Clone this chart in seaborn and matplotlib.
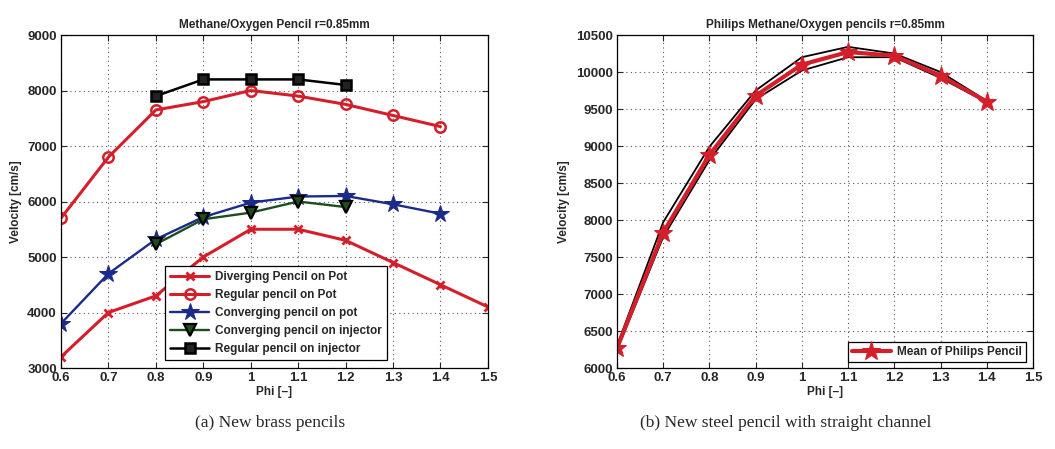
import matplotlib
matplotlib.use("Agg")
import matplotlib.pyplot as plt
import seaborn as sns
import numpy as np

# ---------------- data ----------------
phi_ticks = [0.6, 0.7, 0.8, 0.9, 1.0, 1.1, 1.2, 1.3, 1.4, 1.5]
phi_tick_labels = ["0.6", "0.7", "0.8", "0.9", "1", "1.1", "1.2", "1.3", "1.4", "1.5"]

left_title = "Methane/Oxygen Pencil r=0.85mm"
right_title = "Philips Methane/Oxygen pencils r=0.85mm"

phi_div = [0.6, 0.7, 0.8, 0.9, 1.0, 1.1, 1.2, 1.3, 1.4, 1.5]
v_div = [3200, 4000, 4300, 5000, 5500, 5500, 5300, 4900, 4500, 4100]

phi_reg_pot = [0.6, 0.7, 0.8, 0.9, 1.0, 1.1, 1.2, 1.3, 1.4]
v_reg_pot = [5700, 6800, 7650, 7800, 8000, 7900, 7750, 7550, 7350]

phi_conv_pot = [0.6, 0.7, 0.8, 0.9, 1.0, 1.1, 1.2, 1.3, 1.4]
v_conv_pot = [3800, 4700, 5320, 5720, 5980, 6090, 6100, 5950, 5780]

phi_conv_inj = [0.8, 0.9, 1.0, 1.1, 1.2]
v_conv_inj = [5230, 5680, 5800, 6000, 5900]

phi_reg_inj = [0.8, 0.9, 1.0, 1.1, 1.2]
v_reg_inj = [7900, 8200, 8200, 8200, 8100]

phi_philips = [0.6, 0.7, 0.8, 0.9, 1.0, 1.1, 1.2, 1.3, 1.4]
v_philips_mean = [6270, 7830, 8880, 9680, 10100, 10270, 10220, 9950, 9600]
v_philips_high = [6300, 7970, 8990, 9750, 10200, 10340, 10250, 10000, 9610]
v_philips_low = [6240, 7770, 8810, 9630, 10020, 10200, 10200, 9920, 9590]

labels_left = ["Diverging Pencil on Pot", "Regular pencil on Pot",
               "Converging pencil on pot", "Converging pencil on injector",
               "Regular pencil on injector"]
label_right = "Mean of Philips Pencil"
captions = ["(a) New brass pencils", "(b) New steel pencil with straight channel"]

# ---------------- style ----------------
sns.set_style("ticks")
plt.rcParams["font.family"] = ["Liberation Sans", "DejaVu Sans"]
plt.rcParams["font.weight"] = "bold"

RED = "#d41f2b"
BLUE = "#1c2a8a"
GREEN = "#1e4d1e"

fig = plt.figure(figsize=(10.55, 4.49), dpi=100)
axL = fig.add_axes([0.0578, 0.1804, 0.4047, 0.7416])
axR = fig.add_axes([0.5848, 0.1804, 0.3943, 0.7416])

def style_axes(ax, title):
    ax.grid(True, linestyle=(0, (1, 3)), color="#555555", linewidth=0.8)
    ax.tick_params(direction="in", top=True, right=True, labelsize=9.5,
                   length=4, width=0.8, pad=3)
    for s in ax.spines.values():
        s.set_linewidth(0.9)
        s.set_color("black")
    ax.set_xticks(phi_ticks)
    ax.set_xticklabels(phi_tick_labels)
    ax.set_xlim(0.6, 1.5)
    ax.set_xlabel("Phi [\u2013]", fontsize=8.5, labelpad=1, fontweight="bold")
    ax.set_ylabel("Velocity [cm/s]", fontsize=8.5, fontweight="bold")
    ax.set_title(title, fontsize=8.5, pad=5, fontweight="bold")
    for t in ax.get_xticklabels() + ax.get_yticklabels():
        t.set_fontweight("bold")

# left panel
sns.lineplot(x=phi_div, y=v_div, ax=axL, color=RED, linewidth=2.2,
             marker="x", markersize=6, markeredgewidth=2.0, markeredgecolor=RED,
             label=labels_left[0])
sns.lineplot(x=phi_reg_pot, y=v_reg_pot, ax=axL, color=RED, linewidth=2.2,
             marker="o", markersize=7.5, markerfacecolor="none",
             markeredgewidth=1.8, markeredgecolor=RED, label=labels_left[1])
sns.lineplot(x=phi_conv_pot, y=v_conv_pot, ax=axL, color=BLUE, linewidth=1.7,
             marker="*", markersize=13, markeredgecolor=BLUE,
             label=labels_left[2])
sns.lineplot(x=phi_conv_inj, y=v_conv_inj, ax=axL, color=GREEN, linewidth=1.7,
             marker="v", markersize=8, markerfacecolor=GREEN,
             markeredgewidth=1.6, markeredgecolor="black", label=labels_left[3])
sns.lineplot(x=phi_reg_inj, y=v_reg_inj, ax=axL, color="black", linewidth=1.8,
             marker="s", markersize=7, markerfacecolor="#222222",
             markeredgewidth=1.8, markeredgecolor="black", label=labels_left[4])

axL.set_ylim(3000, 9000)
axL.set_yticks(np.arange(3000, 9001, 1000))
style_axes(axL, left_title)
legL = axL.legend(loc="lower left", bbox_to_anchor=(0.244, 0.024),
                  borderaxespad=0, fontsize=8.5, frameon=True, fancybox=False,
                  framealpha=1, edgecolor="black", handlelength=3.3,
                  borderpad=0.45, labelspacing=0.5, handletextpad=0.5)
legL.get_frame().set_linewidth(0.9)

# right panel
sns.lineplot(x=phi_philips, y=v_philips_high, ax=axR, color="black",
             linewidth=1.3, legend=False)
sns.lineplot(x=phi_philips, y=v_philips_low, ax=axR, color="black",
             linewidth=1.3, legend=False)
sns.lineplot(x=phi_philips, y=v_philips_mean, ax=axR, color=RED,
             linewidth=3.0, marker="*", markersize=14, markeredgecolor=RED,
             label=label_right)
axR.set_ylim(6000, 10500)
axR.set_yticks(np.arange(6000, 10501, 500))
style_axes(axR, right_title)
legR = axR.legend(loc="lower right", bbox_to_anchor=(0.983, 0.018),
                  borderaxespad=0, fontsize=8.5, frameon=True, fancybox=False,
                  framealpha=1, edgecolor="black", handlelength=3.3,
                  borderpad=0.35, handletextpad=0.5)
legR.get_frame().set_linewidth(0.9)

fig.text(0.256, 0.058, captions[0], ha="center", va="center", fontsize=12.5,
         family=["Liberation Serif", "DejaVu Serif"], fontweight="normal")
fig.text(0.745, 0.058, captions[1], ha="center", va="center", fontsize=12.5,
         family=["Liberation Serif", "DejaVu Serif"], fontweight="normal")

fig.savefig("out.png", dpi=100)
